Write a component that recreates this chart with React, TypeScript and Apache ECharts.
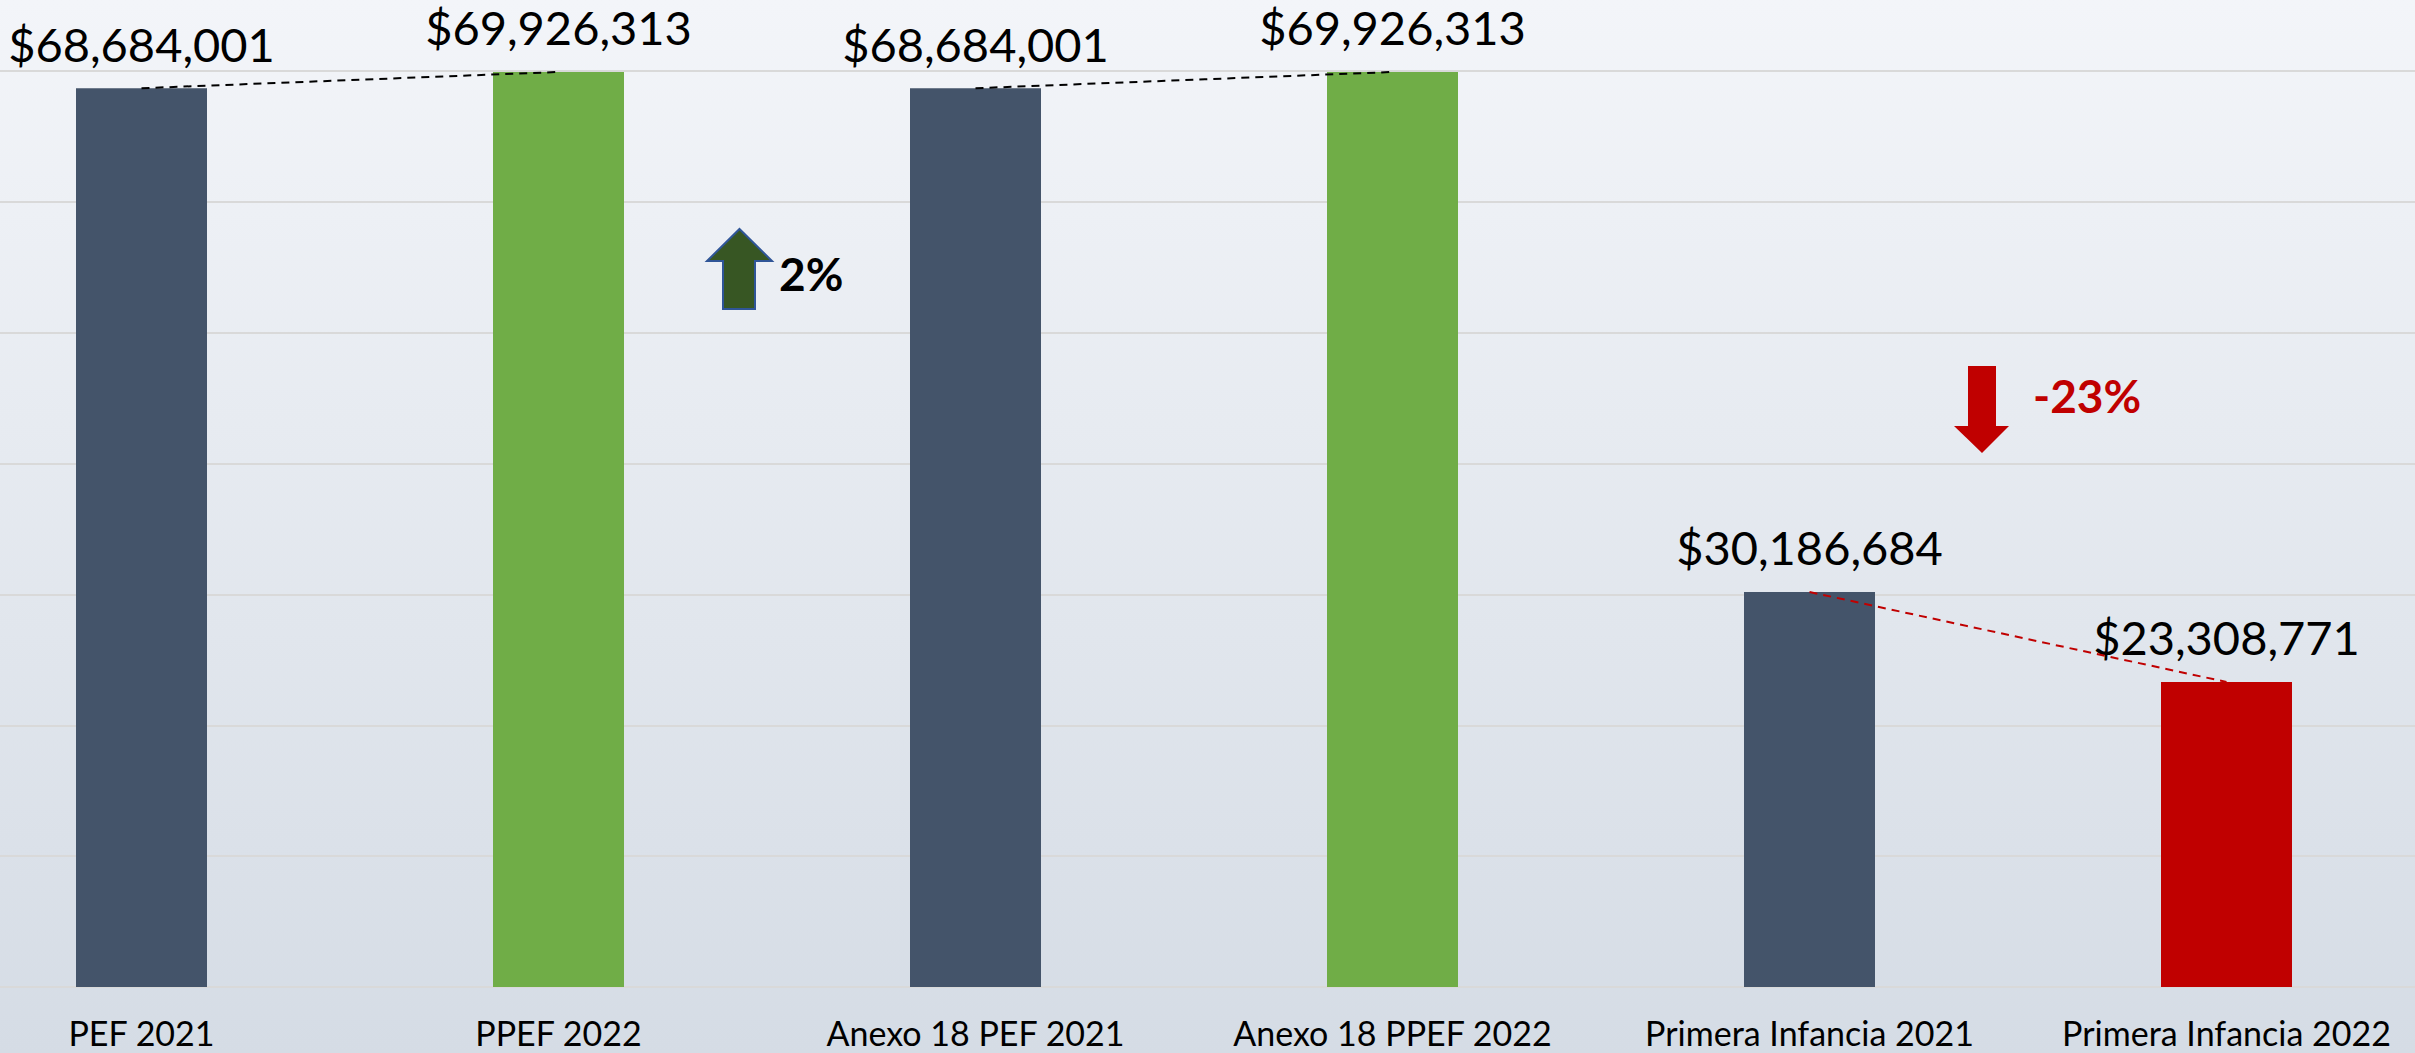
import React, { useEffect, useRef } from "react";
import * as echarts from "echarts";

const categories = [
  "PEF 2021",
  "PPEF 2022",
  "Anexo 18 PEF 2021",
  "Anexo 18 PPEF 2022",
  "Primera Infancia 2021",
  "Primera Infancia 2022",
];
const values = [68684001, 69926313, 68684001, 69926313, 30186684, 23308771];
const barColors = ["#44546A", "#70AD47", "#44546A", "#70AD47", "#44546A", "#C00000"];
const comparisonPairs = [
  [0, 1],
  [2, 3],
  [4, 5],
];
const pairLineColors = ["#000000", "#000000", "#C00000"];
const changeLabels = ["2%", "-23%"];
const axisMin = 0;
const axisMax = 70000000;
const axisInterval = 10000000;

const FONT = "Lato, 'Open Sans', sans-serif";
const OFFSET = 67; // chart canvas extends past the left edge of the page

const fmt = (v: number) => "$" + v.toLocaleString("en-US");

export default function App() {
  const ref = useRef<HTMLDivElement>(null);
  useEffect(() => {
    if (!ref.current) return;
    const chart = echarts.init(ref.current, undefined, { renderer: "svg" });

    const lineSeries = comparisonPairs.map((pair, i) => ({
      type: "line",
      data: categories.map((_, idx) => (pair.includes(idx) ? values[idx] : null)),
      symbol: "none",
      connectNulls: false,
      lineStyle: { color: pairLineColors[i], width: 2, type: [8, 6] },
      z: 5,
      silent: true,
    }));

    chart.setOption({
      animation: false,
      backgroundColor: {
        type: "linear",
        x: 0,
        y: 0,
        x2: 0,
        y2: 1,
        colorStops: [
          { offset: 0, color: "#F3F5F9" },
          { offset: 1, color: "#D5DCE5" },
        ],
      },
      grid: { left: 0, right: 0, top: 71, bottom: 66, containLabel: false },
      xAxis: {
        type: "category",
        data: categories,
        axisLine: { show: true, lineStyle: { color: "#D9D9D9", width: 2 } },
        axisTick: { show: false },
        axisLabel: { fontSize: 34, color: "#000", fontFamily: FONT, margin: 28, interval: 0 },
      },
      yAxis: {
        type: "value",
        min: axisMin,
        max: axisMax,
        interval: axisInterval,
        axisLabel: { show: false },
        axisLine: { show: false },
        axisTick: { show: false },
        splitLine: { show: true, lineStyle: { color: "#D9D9D9", width: 2 } },
      },
      series: [
        {
          type: "bar",
          data: values.map((v, i) => ({ value: v, itemStyle: { color: barColors[i] } })),
          barWidth: 131,
          label: {
            show: true,
            position: "top",
            distance: 21,
            fontSize: 47,
            color: "#000",
            fontFamily: FONT,
            formatter: (p: any) => fmt(p.value),
          },
          z: 2,
        },
        ...lineSeries,
      ],
      graphic: [
        {
          type: "polygon",
          shape: {
            points: [
              [739.5 + OFFSET, 229],
              [772 + OFFSET, 261],
              [755 + OFFSET, 261],
              [755 + OFFSET, 309],
              [723 + OFFSET, 309],
              [723 + OFFSET, 261],
              [707 + OFFSET, 261],
            ],
          },
          style: { fill: "#375623", stroke: "#2F5597", lineWidth: 2 },
          z: 10,
        },
        {
          type: "text",
          x: 779 + OFFSET,
          y: 273,
          style: {
            text: changeLabels[0],
            fill: "#000",
            font: `bold 46px ${FONT}`,
            textVerticalAlign: "middle",
          },
          z: 10,
        },
        {
          type: "polygon",
          shape: {
            points: [
              [1968 + OFFSET, 366],
              [1996 + OFFSET, 366],
              [1996 + OFFSET, 426],
              [2009 + OFFSET, 426],
              [1982 + OFFSET, 453],
              [1954 + OFFSET, 426],
              [1968 + OFFSET, 426],
            ],
          },
          style: { fill: "#C00000" },
          z: 10,
        },
        {
          type: "text",
          x: 2033 + OFFSET,
          y: 395,
          style: {
            text: changeLabels[1],
            fill: "#C00000",
            font: `bold 46px ${FONT}`,
            textVerticalAlign: "middle",
          },
          z: 10,
        },
      ],
    });
    return () => chart.dispose();
  }, []);
  return (
    <div
      ref={ref}
      style={{ position: "fixed", left: -OFFSET, top: 0, width: 2502, height: 1053 }}
    />
  );
}
